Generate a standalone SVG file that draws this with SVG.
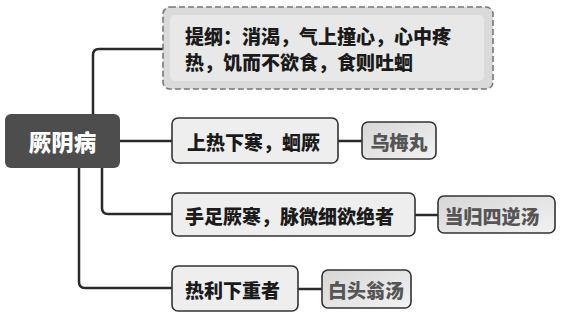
<svg xmlns="http://www.w3.org/2000/svg" width="563" height="318" viewBox="0 0 563 318">
<defs>
<linearGradient id="leafg" x1="0" y1="0" x2="1" y2="1">
<stop offset="0" stop-color="#d6d6d6"/>
<stop offset="1" stop-color="#f2f2f2"/>
</linearGradient>
<style>
text{font-family:"Noto Sans CJK SC",sans-serif;font-weight:900;font-size:19px;dominant-baseline:central}
.node{fill:#eeeeee;stroke:#333333;stroke-width:1.6}
.leaf{fill:url(#leafg);stroke:#333333;stroke-width:1.6}
.t{fill:#1a1a1a}
.lt{fill:#555555;text-anchor:middle}
.rt{fill:#ffffff;text-anchor:middle;font-size:22.5px}
.conn{fill:none;stroke:#2a2a2a;stroke-width:2.5}
</style>
</defs>
<rect width="563" height="318" fill="#ffffff"/>
<g id="connectors">
<path class="conn" d="M93,114 V55 Q93,49 99,49 H170"/>
<path class="conn" d="M120,141 H172"/>
<path class="conn" d="M102,168 V208 Q102,214 108,214 H172"/>
<path class="conn" d="M79,168 V282 Q79,288 85,288 H172"/>
<path class="conn" d="M338,141 H362"/>
<path class="conn" d="M415,215 H438"/>
<path class="conn" d="M298,289 H322"/>
</g>
<g id="root">
<rect x="5" y="114" width="115" height="54" rx="6" fill="#4d4d4d"/>
<text class="rt" x="62.5" y="141">厥阴病</text>
</g>
<g id="summary">
<rect x="163" y="7" width="330" height="82" rx="7" fill="#dadada" stroke="#777777" stroke-width="1.6" stroke-dasharray="6,3"/>
<rect x="170" y="15" width="314" height="66" rx="5" fill="#e8e8e8"/>
<text class="t" x="185" y="35">提纲：消渴，气上撞心，心中疼</text>
<text class="t" x="185" y="61">热，饥而不欲食，食则吐蛔</text>
</g>
<g id="n1">
<rect class="node" x="172" y="118" width="166" height="45" rx="6"/>
<text class="t" x="187" y="141">上热下寒，蛔厥</text>
</g>
<g id="n1leaf">
<rect class="leaf" x="362" y="122" width="74" height="37" rx="6"/>
<text class="lt" x="399" y="141">乌梅丸</text>
</g>
<g id="n2">
<rect class="node" x="172" y="193" width="243" height="43" rx="6"/>
<text class="t" x="185" y="215">手足厥寒，脉微细欲绝者</text>
</g>
<g id="n2leaf">
<rect class="leaf" x="438" y="196" width="117" height="37" rx="6"/>
<text class="lt" x="492" y="215">当归四逆汤</text>
</g>
<g id="n3">
<rect class="node" x="172" y="266" width="126" height="45" rx="6"/>
<text class="t" x="185" y="289">热利下重者</text>
</g>
<g id="n3leaf">
<rect class="leaf" x="322" y="270" width="89" height="38" rx="6"/>
<text class="lt" x="366" y="289">白头翁汤</text>
</g>
</svg>
